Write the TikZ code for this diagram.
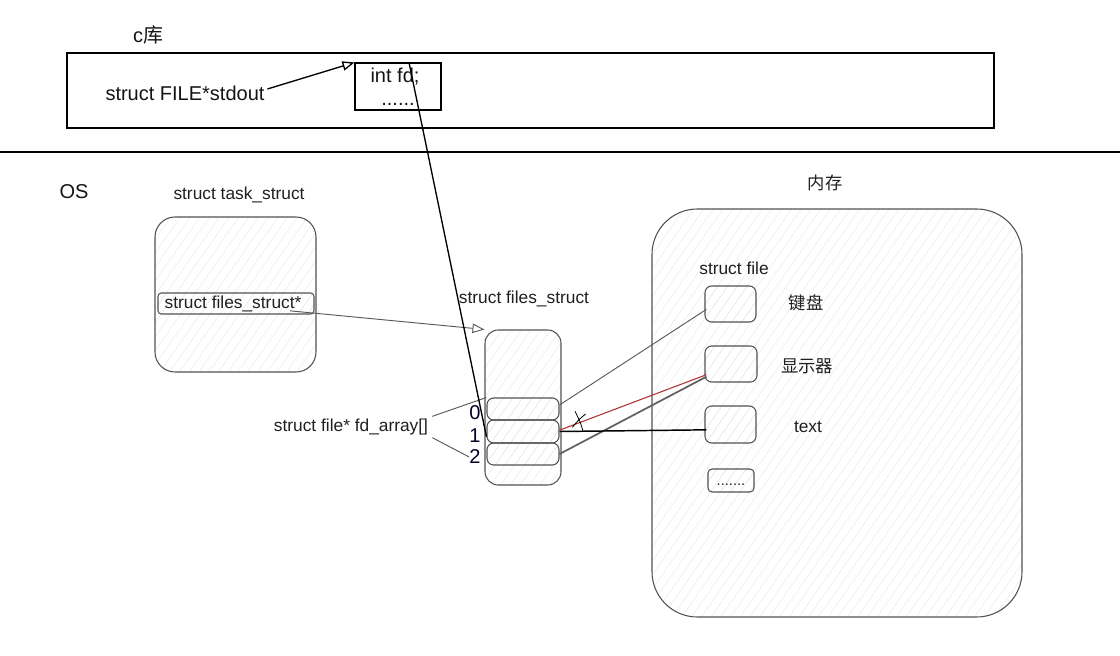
\documentclass[tikz,border=0pt]{standalone}
\usepackage{fontspec}
\setmainfont{Liberation Sans}
\newfontfamily\cjk{Noto Sans CJK SC}
\usetikzlibrary{arrows.meta,patterns.meta}
\begin{document}
\begin{tikzpicture}[x=0.75pt,y=-0.75pt,
  lbl/.style={inner sep=0pt, text=black!88, font=\fontsize{13}{15}\selectfont},
  biglbl/.style={inner sep=0pt, text=black!92, font=\fontsize{15}{18}\selectfont},
  hatch/.style={pattern={Lines[angle=55,distance=6pt,line width=0.35pt]}, pattern color=black!9},
  gbox/.style={draw=black!68, line width=0.8pt, hatch, inner sep=0pt},
  wire/.style={draw=black!65, line width=0.7pt},
  openarrow/.style={-{Triangle[open,length=9pt,width=7pt]}}
]
\useasboundingbox (0,0) rectangle (1120,656);

% C library
\node[biglbl] (clib) at (148,35) {c{\cjk 库}};
\node[draw=black, line width=1.1pt, minimum width=695.25pt, minimum height=56.25pt, inner sep=0pt] (top) at (530.5,90.5) {};
\node[biglbl] (stdout) at (185,93) {struct FILE*stdout};
\node[draw=black, line width=0.8pt, minimum width=64.5pt, minimum height=35.25pt, inner sep=0pt] (fd) at (398,86.5) {};
\node[biglbl] (fdt1) at (395,77) {int fd;};
\node[biglbl, anchor=base] (fdt2) at (398,106) {......};
\draw[black, line width=1pt, openarrow] ([xshift=2pt,yshift=3pt]stdout.east) -- (fd.north west);

% separator
\coordinate (sepL) at (0,152);
\coordinate (sepR) at (1120,152);
\draw[black, line width=0.8pt] (sepL) -- (sepR);

% OS
\node[biglbl] (os) at (74,192) {OS};
\node[lbl] (tasklbl) at (239,195) {struct task\_struct};
\node[gbox, rounded corners=15pt, minimum width=120.75pt, minimum height=116.25pt] (task) at (235.5,294.5) {};
\node[gbox, rounded corners=2.5pt, minimum width=117pt, minimum height=15.75pt] (fsp) at (236,303.5) {};
\node[lbl] (fsptext) at (233,304) {struct files\_struct*};

% files_struct
\node[lbl] (fslbl) at (524,299) {struct files\_struct};
\node[gbox, rounded corners=10pt, minimum width=57pt, minimum height=116.25pt] (files) at (523,407.5) {};
\node[gbox, rounded corners=5pt, minimum width=54pt, minimum height=16.5pt] (slot0) at (523,409) {};
\node[gbox, rounded corners=5pt, minimum width=54pt, minimum height=17.25pt] (slot1) at (523,431.5) {};
\node[gbox, rounded corners=5pt, minimum width=54pt, minimum height=16.5pt] (slot2) at (523,454) {};
\node[biglbl, text=black!85!blue] (n0) at (475,413) {0};
\node[biglbl, text=black!85!blue] (n1) at (475,436) {1};
\node[biglbl, text=black!85!blue] (n2) at (475,457) {2};
\node[lbl] (fdl) at (351,427) {struct file* fd\_array[]};
\draw[wire] ([xshift=3pt,yshift=8pt]fdl.east) -- (slot0.north west);
\draw[wire] ([xshift=3pt,yshift=-8pt]fdl.east) -- (n2.west);

\draw[wire, openarrow] ([xshift=40.5pt,yshift=-5.5pt]fsp.center) -- (files.north west);

% fd pointer line
\draw[black, line width=1pt] ([xshift=8.25pt]fd.north) -- ([yshift=-4pt]slot1.west);

% memory
\node[lbl] (memlbl) at (825,183) {{\cjk 内存}};
\node[gbox, rounded corners=34pt, minimum width=277.5pt, minimum height=306pt] (mem) at (837,413) {};
\node[lbl] (sflbl) at (734,268) {struct file};
\node[gbox, rounded corners=5pt, minimum width=38.25pt, minimum height=27pt] (f1) at (730.5,304) {};
\node[gbox, rounded corners=5pt, minimum width=39pt, minimum height=27pt] (f2) at (731,364) {};
\node[gbox, rounded corners=5pt, minimum width=38.25pt, minimum height=27.75pt] (f3) at (730.5,424.5) {};
\node[gbox, rounded corners=3pt, minimum width=34.5pt, minimum height=17.25pt] (f4) at (731,480.5) {};
\node[lbl, font=\fontsize{11}{13}\selectfont] (f4t) at (731,485) {.......};
\node[lbl] (kb) at (806,303) {{\cjk 键盘}};
\node[lbl] (disp) at (807,366) {{\cjk 显示器}};
\node[lbl] (txt) at (808,427) {text};

% connections
\draw[wire] ([yshift=3pt]slot0.east) -- ([xshift=1.5pt,yshift=-4pt]f1.west);
\draw[draw=red!60!black!80, line width=0.8pt] ([yshift=1pt]slot1.east) -- ([xshift=1.5pt,yshift=-8pt]f2.west);
\draw[draw=black!62, line width=1.3pt] ([yshift=0pt]slot2.east) -- ([xshift=1.5pt,yshift=-9.5pt]f2.west);
\draw[black, line width=1.1pt] (slot1.east) -- ([xshift=1.5pt,yshift=-4pt]f3.west);

% X mark
\coordinate (xm) at (579,422);
\draw[black, line width=0.6pt] ([xshift=-3pt,yshift=8pt]xm) .. controls ([xshift=1pt,yshift=0pt]xm) .. ([xshift=3pt,yshift=-7pt]xm);
\draw[black, line width=0.6pt] ([xshift=-5pt,yshift=-4pt]xm) .. controls ([xshift=0pt,yshift=2pt]xm) .. ([xshift=5pt,yshift=6pt]xm);
\end{tikzpicture}
\end{document}
